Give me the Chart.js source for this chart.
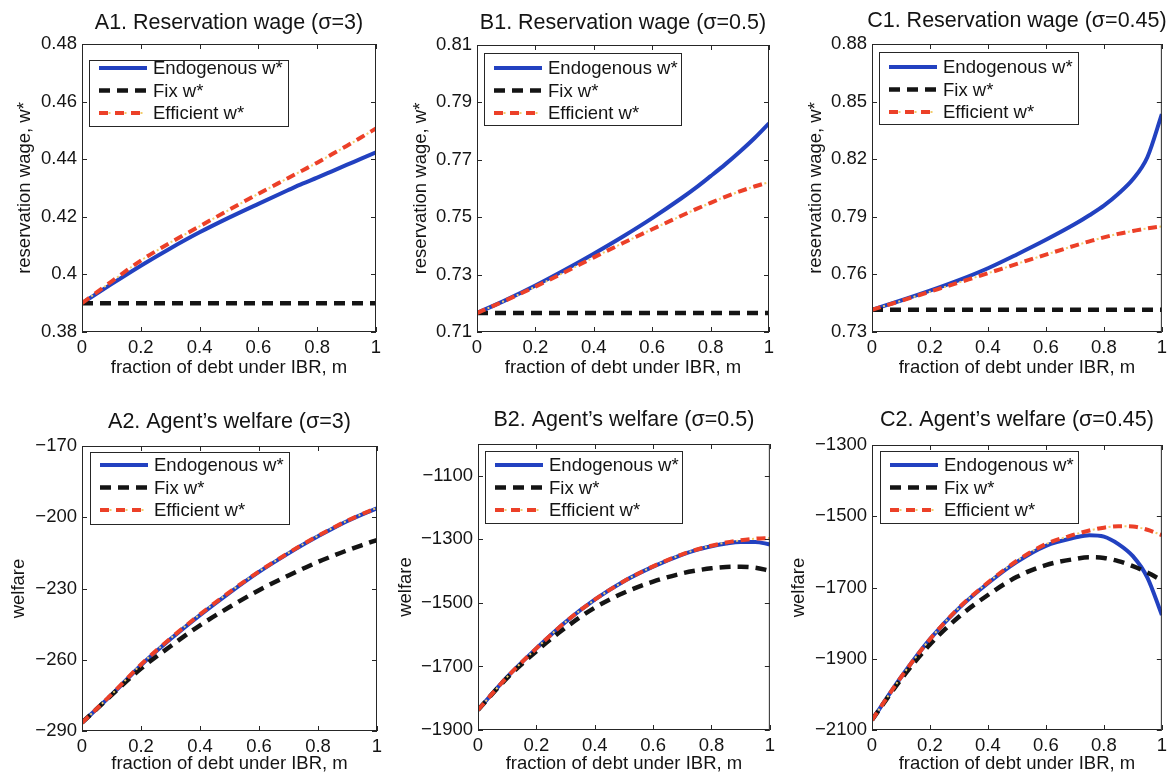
<!DOCTYPE html>
<html>
<head>
<meta charset="utf-8">
<script src="https://cdn.jsdelivr.net/npm/chart.js@4.4.0/dist/chart.umd.min.js"></script>
<style>
  html, body { margin: 0; padding: 0; background: #fff; }
  #wrap { position: relative; width: 1172px; height: 775px; overflow: hidden; }
  canvas { position: absolute; }
</style>
</head>
<body>
<div id="wrap"></div>
<script>
// fraction of debt under IBR, m
const m = [0, 0.1, 0.2, 0.3, 0.4, 0.5, 0.6, 0.7, 0.75, 0.8, 0.85, 0.9, 0.95, 1];
const xTicks = [0, 0.2, 0.4, 0.6, 0.8, 1];
const seriesNames = ['Endogenous w*', 'Fix w*', 'Efficient w*'];

// reservation wage, sigma = 3
const wageA_endo = [0.3900, 0.3966, 0.4030, 0.4090, 0.4146, 0.4197, 0.4245, 0.4292, 0.4315, 0.4336, 0.4358, 0.4380, 0.4402, 0.4424];
const wageA_fix  = [0.3900, 0.3900, 0.3900, 0.3900, 0.3900, 0.3900, 0.3900, 0.3900, 0.3900, 0.3900, 0.3900, 0.3900, 0.3900, 0.3900];
const wageA_eff  = [0.3900, 0.3975, 0.4048, 0.4110, 0.4167, 0.4224, 0.4280, 0.4334, 0.4361, 0.4388, 0.4417, 0.4446, 0.4476, 0.4507];
const yTicksA1 = [0.38, 0.40, 0.42, 0.44, 0.46, 0.48];

// reservation wage, sigma = 0.5
const wageB_endo = [0.7166, 0.7212, 0.7262, 0.7316, 0.7373, 0.7433, 0.7497, 0.7566, 0.7603, 0.7643, 0.7684, 0.7728, 0.7775, 0.7827];
const wageB_fix  = [0.7166, 0.7166, 0.7166, 0.7166, 0.7166, 0.7166, 0.7166, 0.7166, 0.7166, 0.7166, 0.7166, 0.7166, 0.7166, 0.7166];
const wageB_eff  = [0.7166, 0.7211, 0.7258, 0.7308, 0.7360, 0.7410, 0.7458, 0.7505, 0.7528, 0.7550, 0.7571, 0.7590, 0.7607, 0.7622];
const yTicksB1 = [0.71, 0.73, 0.75, 0.77, 0.79, 0.81];

// reservation wage, sigma = 0.45
const wageC_endo = [0.7416, 0.7464, 0.7515, 0.7570, 0.7632, 0.7704, 0.7780, 0.7862, 0.7908, 0.7958, 0.8020, 0.8095, 0.8210, 0.8435];
const wageC_fix  = [0.7416, 0.7416, 0.7416, 0.7416, 0.7416, 0.7416, 0.7416, 0.7416, 0.7416, 0.7416, 0.7416, 0.7416, 0.7416, 0.7416];
const wageC_eff  = [0.7416, 0.7462, 0.7510, 0.7558, 0.7606, 0.7655, 0.7703, 0.7750, 0.7772, 0.7793, 0.7811, 0.7826, 0.7840, 0.7850];
const yTicksC1 = [0.73, 0.76, 0.79, 0.82, 0.85, 0.88];

// agent's welfare, sigma = 3
const welfA_endo = [-286.5, -274.8, -262.3, -251.3, -241.2, -231.8, -223.0, -215.2, -211.5, -208.0, -204.7, -201.6, -198.8, -196.3];
const welfA_fix  = [-286.5, -274.9, -263.7, -254.3, -245.5, -237.8, -230.7, -224.5, -221.6, -218.8, -216.3, -213.9, -211.7, -209.6];
const welfA_eff  = [-286.5, -274.6, -262.0, -251.0, -240.9, -231.5, -222.8, -215.0, -211.3, -207.8, -204.5, -201.4, -198.6, -196.0];
const yTicksA2 = [-290, -260, -230, -200, -170];

// agent's welfare, sigma = 0.5
const welfB_endo = [-1837, -1733, -1643, -1560, -1490, -1432, -1386, -1348, -1333, -1322, -1313, -1308, -1308, -1316];
const welfB_fix  = [-1837, -1736, -1652, -1578, -1515, -1468, -1433, -1407, -1398, -1391, -1387, -1386, -1389, -1399];
const welfB_eff  = [-1837, -1733, -1643, -1560, -1490, -1432, -1385, -1347, -1332, -1320, -1310, -1303, -1298, -1296];
const yTicksB2 = [-1900, -1700, -1500, -1300, -1100];

// agent's welfare, sigma = 0.45
const welfC_endo = [-2072, -1952, -1845, -1758, -1688, -1628, -1583, -1560, -1553, -1557, -1578, -1612, -1672, -1777];
const welfC_fix  = [-2072, -1958, -1860, -1782, -1721, -1670, -1637, -1620, -1615, -1617, -1626, -1640, -1658, -1680];
const welfC_eff  = [-2072, -1952, -1845, -1757, -1686, -1625, -1578, -1551, -1540, -1532, -1528, -1529, -1538, -1553];
const yTicksC2 = [-2100, -1900, -1700, -1500, -1300];

const FONT = '"Liberation Sans", Arial, Helvetica, sans-serif';
const INK = '#141414';
const BLUE = '#2241c0';
const RED = '#ec4028';
const DOT = '#f2cc6a';

const panels = [
  { left: 0, top: 0, w: 390, h: 385, area: [82, 376, 44, 332], titleY: 23,
    title: 'A1. Reservation wage (\u03c3=3)', yTitle: 'reservation wage, w*', yPad: 14, xPad: 6,
    yMin: 0.38, yMax: 0.48, yTicks: yTicksA1, series: [wageA_endo, wageA_fix, wageA_eff],
    legend: { dx: 7, dy: 16, w: 199, h: 66, row: 8 } },
  { left: 390, top: 0, w: 390, h: 385, area: [87, 379, 45, 332], titleY: 23,
    title: 'B1. Reservation wage (\u03c3=0.5)', yTitle: 'reservation wage, w*', yPad: 20, xPad: 6,
    yMin: 0.71, yMax: 0.81, yTicks: yTicksB1, series: [wageB_endo, wageB_fix, wageB_eff],
    legend: { dx: 7, dy: 8, w: 197, h: 72, row: 15 } },
  { left: 780, top: 0, w: 392, h: 385, area: [92, 386, 44, 332], titleY: 21,
    title: 'C1. Reservation wage (\u03c3=0.45)', yTitle: 'reservation wage, w*', yPad: 25, xPad: 6,
    yMin: 0.73, yMax: 0.88, yTicks: yTicksC1, series: [wageC_endo, wageC_fix, wageC_eff],
    legend: { dx: 7, dy: 8, w: 199, h: 72, row: 15 } },
  { left: 0, top: 385, w: 390, h: 390, area: [82, 377, 61, 346], titleY: 37,
    title: 'A2. Agent\u2019s welfare (\u03c3=3)', yTitle: 'welfare', yPad: 8, xPad: 0,
    yMin: -290, yMax: -170, yTicks: yTicksA2, series: [welfA_endo, welfA_fix, welfA_eff],
    legend: { dx: 8, dy: 6, w: 199, h: 72, row: 13 } },
  { left: 390, top: 385, w: 390, h: 390, area: [88, 380, 59, 345], titleY: 35,
    title: 'B2. Agent\u2019s welfare (\u03c3=0.5)', yTitle: 'welfare', yPad: 5, xPad: 0,
    yMin: -1900, yMax: -1000, yTicks: yTicksB2, series: [welfB_endo, welfB_fix, welfB_eff],
    legend: { dx: 7, dy: 7, w: 197, h: 72, row: 14 } },
  { left: 780, top: 385, w: 392, h: 390, area: [92, 386, 60, 345], titleY: 35,
    title: 'C2. Agent\u2019s welfare (\u03c3=0.45)', yTitle: 'welfare', yPad: 8, xPad: 0,
    yMin: -2100, yMax: -1300, yTicks: yTicksC2, series: [welfC_endo, welfC_fix, welfC_eff],
    legend: { dx: 8, dy: 6, w: 198, h: 72, row: 14 } }
];

function fmt(v) {
  return String(Number(v.toFixed(4))).replace('-', '\u2212');
}

// line looks: solid blue, black dashes, red dash with pale dots in between
const styles = [
  { color: BLUE, width: 4, dash: [] },
  { color: INK, width: 4.5, dash: [11, 7] },
  { color: RED, width: 4, dash: [9, 7] }
];

const framePlugin = {
  id: 'frame',
  afterDatasetsDraw(chart, args, opts) {
    const p = opts.panel;
    const { ctx, chartArea: a, scales } = chart;
    ctx.save();
    // axes box with inward ticks on all four sides
    ctx.strokeStyle = '#262626';
    ctx.lineWidth = 1;
    ctx.strokeRect(a.left + 0.5, a.top + 0.5, a.right - a.left - 1, a.bottom - a.top - 1);
    ctx.beginPath();
    xTicks.forEach(v => {
      const x = Math.round(scales.x.getPixelForValue(v)) + 0.5;
      ctx.moveTo(x, a.bottom); ctx.lineTo(x, a.bottom - 5);
      ctx.moveTo(x, a.top); ctx.lineTo(x, a.top + 5);
    });
    p.yTicks.forEach(v => {
      const y = Math.round(scales.y.getPixelForValue(v)) + 0.5;
      ctx.moveTo(a.left, y); ctx.lineTo(a.left + 5, y);
      ctx.moveTo(a.right, y); ctx.lineTo(a.right - 5, y);
    });
    ctx.stroke();

    // legend
    const L = p.legend;
    const bx = a.left + L.dx, by = a.top + L.dy;
    ctx.fillStyle = '#fff';
    ctx.fillRect(bx, by, L.w, L.h);
    ctx.strokeStyle = '#262626';
    ctx.strokeRect(bx + 0.5, by + 0.5, L.w, L.h);
    ctx.font = '18.5px ' + FONT;
    ctx.textBaseline = 'middle';
    ctx.textAlign = 'left';
    seriesNames.forEach((name, i) => {
      const y = by + L.row + i * 22.5;
      const s = styles[i];
      if (i === 2) {
        ctx.save();
        ctx.strokeStyle = DOT; ctx.lineWidth = 2;
        ctx.setLineDash([2, 14]); ctx.lineDashOffset = 4.5;
        ctx.beginPath(); ctx.moveTo(bx + 8, y); ctx.lineTo(bx + 58, y); ctx.stroke();
        ctx.restore();
      }
      ctx.save();
      ctx.strokeStyle = s.color; ctx.lineWidth = s.width;
      ctx.setLineDash(s.dash);
      ctx.beginPath(); ctx.moveTo(bx + 10, y); ctx.lineTo(bx + 58, y); ctx.stroke();
      ctx.restore();
      ctx.fillStyle = INK;
      ctx.fillText(name, bx + 64, y + 1);
    });

    // panel title, centred over the axes
    ctx.font = '21.5px ' + FONT;
    ctx.textAlign = 'center';
    ctx.fillStyle = INK;
    ctx.fillText(p.title, (a.left + a.right) / 2, p.titleY);
    ctx.restore();
  }
};

const wrap = document.getElementById('wrap');

panels.forEach(p => {
  const cv = document.createElement('canvas');
  cv.width = p.w; cv.height = p.h;
  cv.style.left = p.left + 'px';
  cv.style.top = p.top + 'px';
  cv.style.width = p.w + 'px';
  cv.style.height = p.h + 'px';
  wrap.appendChild(cv);

  const [l, r, t, b] = p.area;
  const pts = s => m.map((x, i) => ({ x, y: s[i] }));
  const base = { pointRadius: 0, cubicInterpolationMode: 'monotone', fill: false };

  new Chart(cv, {
    type: 'line',
    data: {
      datasets: [
        { ...base, label: seriesNames[2], data: pts(p.series[2]), borderColor: RED, borderWidth: 4, borderDash: [9, 7], order: 1 },
        { ...base, label: '', data: pts(p.series[2]), borderColor: DOT, borderWidth: 2, borderDash: [2, 14], borderDashOffset: 4.5, order: 2 },
        { ...base, label: seriesNames[1], data: pts(p.series[1]), borderColor: INK, borderWidth: 4.5, borderDash: [11, 7], order: 3 },
        { ...base, label: seriesNames[0], data: pts(p.series[0]), borderColor: BLUE, borderWidth: 4, order: 4 }
      ]
    },
    options: {
      responsive: false,
      devicePixelRatio: 1,
      animation: false,
      layout: { padding: { left: 0, top: t, right: p.w - r, bottom: 0 } },
      plugins: {
        legend: { display: false },
        tooltip: { enabled: false },
        frame: { panel: p }
      },
      scales: {
        x: {
          type: 'linear', min: 0, max: 1,
          grid: { display: false, drawTicks: false },
          border: { display: false },
          afterBuildTicks: s => { s.ticks = xTicks.map(v => ({ value: v })); },
          afterFit: s => { s.height = p.h - b; },
          ticks: { padding: 5, color: INK, font: { family: FONT, size: 18.5 }, maxRotation: 0, callback: v => fmt(v) },
          title: { display: true, text: 'fraction of debt under IBR, m', color: INK,
                   font: { family: FONT, size: 18.5 }, padding: { top: 0, bottom: p.xPad } }
        },
        y: {
          type: 'linear', min: p.yMin, max: p.yMax,
          grid: { display: false, drawTicks: false },
          border: { display: false },
          afterBuildTicks: s => { s.ticks = p.yTicks.map(v => ({ value: v })); },
          afterFit: s => { s.width = l; },
          ticks: { padding: 5, color: INK, font: { family: FONT, size: 18.5 }, callback: v => fmt(v) },
          title: { display: true, text: p.yTitle, color: INK,
                   font: { family: FONT, size: 18.5 }, padding: { top: p.yPad, bottom: 0 } }
        }
      }
    },
    plugins: [framePlugin]
  });
});
</script>
</body>
</html>
